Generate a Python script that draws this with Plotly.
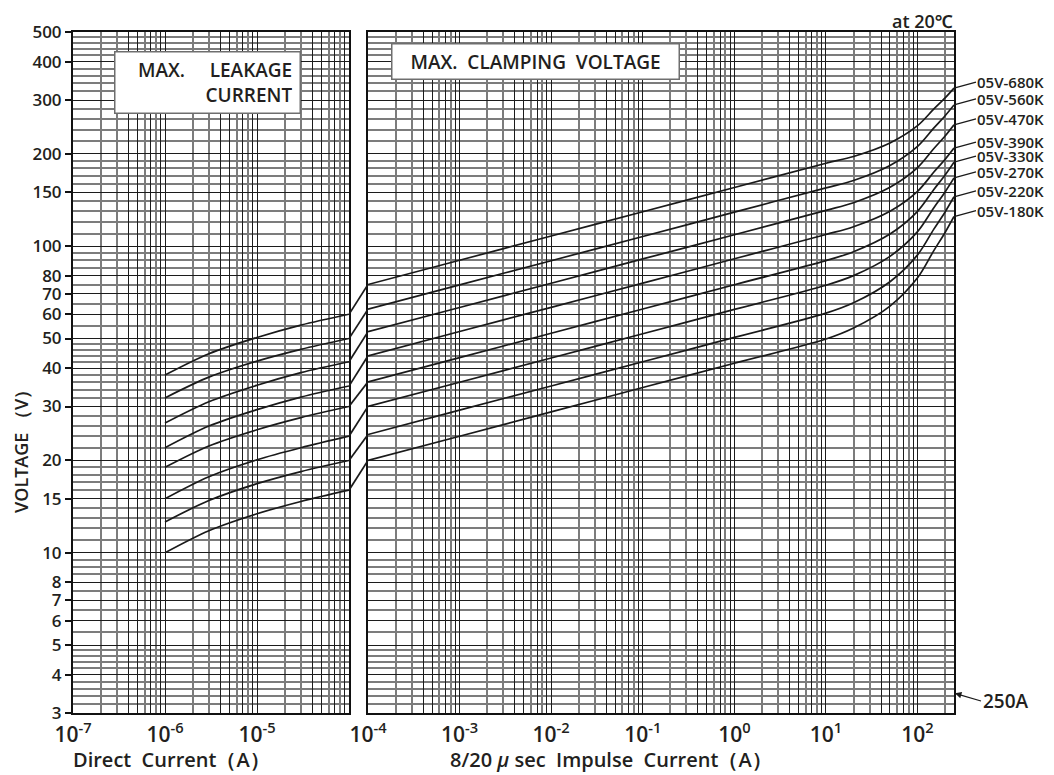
import math
import plotly.graph_objects as go

# ---------------- data ----------------
series_names = ["05V-680K", "05V-560K", "05V-470K", "05V-390K",
                "05V-330K", "05V-270K", "05V-220K", "05V-180K"]

# Max. leakage current (DC), voltage in V
dc_current = [1e-6, 3e-6, 1e-5, 3e-5, 1e-4]
leak_680k = [38, 44.6, 50.4, 55.3, 60]
leak_560k = [32, 37.4, 42.2, 46.1, 50]
leak_470k = [26.5, 31.1, 35.2, 38.7, 42]
leak_390k = [22, 25.9, 29.3, 32.2, 35]
leak_330k = [19, 22.3, 25.2, 27.6, 30]
leak_270k = [15, 17.7, 20.1, 22.0, 24]
leak_220k = [12.6, 14.8, 16.8, 18.4, 20]
leak_180k = [10, 11.8, 13.4, 14.7, 16]

# Max. clamping voltage (8/20 us impulse), voltage in V
impulse_current = [1e-4, 1e-3, 1e-2, 1e-1, 1, 10, 20, 50, 100, 150, 200, 250]
clamp_680k = [75, 90, 108, 129.6, 155.5, 186.6, 196.3, 217.3, 247.4, 280.1, 304.8, 328]
clamp_560k = [62.3, 74.8, 89.7, 107.6, 129.2, 155, 163.9, 183.4, 211.7, 242.8, 266.6, 289]
clamp_470k = [52.6, 63.1, 75.7, 90.9, 109, 130.9, 138.7, 155.7, 180.5, 208.0, 229.0, 249]
clamp_390k = [43.9, 52.7, 63.2, 75.8, 91, 109.2, 115.8, 130.1, 151.1, 174.3, 192.1, 209]
clamp_330k = [36.1, 43.3, 52, 62.4, 74.9, 89.8, 96.0, 109.6, 130.0, 152.9, 170.8, 188]
clamp_270k = [30, 36, 43.2, 51.8, 62.2, 74.6, 80.2, 92.7, 111.6, 133.3, 150.4, 167]
clamp_220k = [24.3, 29.2, 35, 42, 50.4, 60.5, 65.4, 76.6, 93.7, 113.5, 129.4, 145]
clamp_180k = [20, 24, 28.8, 34.6, 41.5, 49.8, 54.1, 63.8, 78.9, 96.6, 110.9, 125]

leak_series = [leak_680k, leak_560k, leak_470k, leak_390k,
               leak_330k, leak_270k, leak_220k, leak_180k]
clamp_series = [clamp_680k, clamp_560k, clamp_470k, clamp_390k,
                clamp_330k, clamp_270k, clamp_220k, clamp_180k]

# axis ticks
y_tick_vals = [3, 4, 5, 6, 7, 8, 10, 15, 20, 30, 40, 50, 60, 70, 80,
               100, 150, 200, 300, 400, 500]
y_minor_vals = [3.2, 3.4, 3.6, 3.8, 4.2, 4.4, 4.6, 4.8,
                5.5, 6.5, 7.5, 8.5, 9, 9.5,
                11, 12, 13, 14, 16, 17, 18, 19,
                22, 24, 26, 28, 32, 34, 36, 38, 42, 44, 46, 48,
                55, 65, 75, 85, 90, 95,
                110, 120, 130, 140, 160, 170, 180, 190,
                220, 240, 260, 280, 320, 340, 360, 380, 420, 440, 460, 480]
left_decades = [-7, -6, -5]
right_decades = [-4, -3, -2, -1, 0, 1, 2]
I_MAX = 250

# ---------------- style ----------------
FONT = "Open Sans, Noto Sans, sans-serif"
TXT = "#231f20"
DARK = "#1c1c1c"
GREY = "#7c7c7c"
DARK_MANT = [1, 4, 5, 7, 9]
GREY_MANT = [2, 3, 6, 8]

# page body has an 8px margin; screen-space plot box is x 73..954, y 32..713
OFF = 8
W, H = 1054 - OFF, 775 - OFF
PX0, PX1, PY0, PY1 = 73, 954, 32, 713
ML, MT = PX0 - OFF, PY0 - OFF
PW, PH = PX1 - PX0, PY1 - PY0
MR, MB = W - ML - PW, H - MT - PH
left_dom = [0, (349 - PX0) / PW]
right_dom = [(368 - PX0) / PW, 1]


def px(xs):
    return (xs - PX0) / PW


def py(ys):
    return (PY1 - ys) / PH


def grid_vals(decades, mants, upper):
    out = []
    for d in decades:
        for m in mants:
            v = m * 10 ** d
            if v <= upper * 1.0001:
                out.append(v)
    return out


def sup(d):
    return "10<sup>%d</sup>" % d


fig = go.Figure()
LINE = dict(color="#1a1a1a", width=1.7, shape="spline", smoothing=0.9)

for name, vals in zip(series_names, leak_series):
    fig.add_trace(go.Scatter(x=dc_current, y=vals, mode="lines", line=LINE,
                             xaxis="x", yaxis="y", showlegend=False, name=name))
for name, vals in zip(series_names, clamp_series):
    fig.add_trace(go.Scatter(x=impulse_current, y=vals, mode="lines", line=LINE,
                             xaxis="x2", yaxis="y2", showlegend=False, name=name))
# connectors across the gap between the two panels
for lv, cv in zip(leak_series, clamp_series):
    fig.add_trace(go.Scatter(x=[0, 1], y=[lv[-1], cv[0]], mode="lines",
                             line=dict(color="#1a1a1a", width=1.7),
                             xaxis="x3", yaxis="y3", showlegend=False, hoverinfo="skip"))

yrange = [math.log10(3), math.log10(500)]
frame = dict(showline=True, mirror=True, linecolor="#111", linewidth=2)

left_major = [10 ** d for d in left_decades] + grid_vals(left_decades, DARK_MANT[1:], 1e-4)
left_text = [sup(d) for d in left_decades] + [""] * (len(left_major) - len(left_decades))
right_major = [10 ** d for d in right_decades] + grid_vals(right_decades, DARK_MANT[1:], I_MAX)
right_text = [sup(d) for d in right_decades] + [""] * (len(right_major) - len(right_decades))

xcommon = dict(type="log", showgrid=True, gridcolor=DARK, gridwidth=1.3, ticks="",
               ticklabelstandoff=2,
               tickfont=dict(family=FONT, size=21, color=TXT, weight=600),
               zeroline=False, **frame)
gminor = dict(showgrid=True, gridcolor=GREY, gridwidth=1.5, ticks="")

fig.update_layout(
    width=W, height=H,
    margin=dict(l=ML, r=MR, t=MT, b=MB),
    paper_bgcolor="white", plot_bgcolor="white",
    font=dict(family=FONT, color=TXT),
    xaxis=dict(domain=left_dom, range=[-7, -4], anchor="y",
               tickmode="array", tickvals=left_major, ticktext=left_text,
               minor=dict(tickmode="array", tickvals=grid_vals(left_decades, GREY_MANT, 1e-4), **gminor),
               **xcommon),
    xaxis2=dict(domain=right_dom, range=[-4, math.log10(I_MAX)], anchor="y2",
                tickmode="array", tickvals=right_major, ticktext=right_text,
                minor=dict(tickmode="array", tickvals=grid_vals(right_decades, GREY_MANT, I_MAX), **gminor),
                **xcommon),
    xaxis3=dict(domain=[left_dom[1], right_dom[0]], range=[0, 1], anchor="y3", visible=False),
    yaxis=dict(type="log", domain=[0, 1], range=yrange, anchor="x",
               tickmode="array", tickvals=y_tick_vals, ticktext=[str(v) for v in y_tick_vals],
               ticks="outside", ticklen=6, tickwidth=1.6, tickcolor="#111",
               tickfont=dict(family=FONT, size=17, color=TXT, weight=600),
               showgrid=True, gridcolor=DARK, gridwidth=1.3, zeroline=False,
               minor=dict(tickmode="array", tickvals=y_minor_vals, **gminor),
               **frame),
    yaxis2=dict(type="log", domain=[0, 1], range=yrange, anchor="x2", matches="y",
                tickmode="array", tickvals=y_tick_vals, showticklabels=False, ticks="",
                showgrid=True, gridcolor=DARK, gridwidth=1.3, zeroline=False,
                minor=dict(tickmode="array", tickvals=y_minor_vals, **gminor),
                **frame),
    yaxis3=dict(type="log", domain=[0, 1], range=yrange, anchor="x3", visible=False,
                showgrid=False),
)

ann = []
# curve labels with leaders
for name, vals in zip(series_names, clamp_series):
    ann.append(dict(x=math.log10(I_MAX), y=math.log10(vals[-1]), xref="x2", yref="y2",
                    text=name, showarrow=True, arrowhead=0, arrowwidth=1.3, arrowcolor="#1a1a1a",
                    ax=22, ay=-6, xanchor="left", yanchor="middle", standoff=0, borderpad=0,
                    font=dict(family=FONT, size=15, color=TXT, weight=600)))
# 250A marker
ann.append(dict(x=math.log10(I_MAX), y=yrange[0] + 20 * (yrange[1] - yrange[0]) / PH,
                xref="x2", yref="y2", text="250A", showarrow=True, arrowhead=2, arrowsize=1,
                arrowwidth=1.3, arrowcolor="#1a1a1a", ax=27, ay=8, xanchor="left",
                yanchor="middle", standoff=1, font=dict(family=FONT, size=19, color=TXT, weight=600)))
TF = dict(family=FONT, size=20, color=TXT, weight=600)
ann += [
    dict(x=1, y=py(8), xref="paper", yref="paper", text="at 20℃",
         showarrow=False, xanchor="right", yanchor="top", borderpad=0,
         font=dict(family=FONT, size=18, color=TXT, weight=600)),
    dict(x=px(21), y=py(447), xref="paper", yref="paper",
         text="VOLTAGE\u00a0（V）", textangle=-90, showarrow=False,
         xanchor="center", yanchor="middle", borderpad=0,
         font=dict(family=FONT, size=18, color=TXT, weight=600)),
    dict(x=px(171), y=py(759), xref="paper", yref="paper",
         text="Direct\u00a0\u00a0Current（A）", showarrow=False,
         xanchor="center", yanchor="middle", font=TF),
    dict(x=px(611), y=py(759), xref="paper", yref="paper",
         text="8/20\u00a0<i>μ</i>\u00a0sec\u00a0\u00a0Impulse\u00a0\u00a0Current（A）", showarrow=False,
         xanchor="center", yanchor="middle", font=TF),
    dict(x=px(207), y=py(82.5), xref="paper", yref="paper",
         text="MAX.\u00a0\u00a0\u00a0\u00a0\u00a0LEAKAGE<br>CURRENT", align="right",
         showarrow=False, xanchor="center", yanchor="middle", width=170, height=46,
         bgcolor="white", bordercolor="#6e6e6e", borderwidth=1.5, borderpad=7,
         font=dict(family=FONT, size=19, color=TXT, weight=600)),
    dict(x=px(535), y=py(61.5), xref="paper", yref="paper",
         text="MAX.\u00a0\u00a0CLAMPING\u00a0\u00a0VOLTAGE", align="center",
         showarrow=False, xanchor="center", yanchor="middle", width=278, height=26,
         bgcolor="white", bordercolor="#6e6e6e", borderwidth=1.5, borderpad=4,
         font=dict(family=FONT, size=19, color=TXT, weight=600)),
]
fig.update_layout(annotations=ann)

fig.write_html("out.html")
